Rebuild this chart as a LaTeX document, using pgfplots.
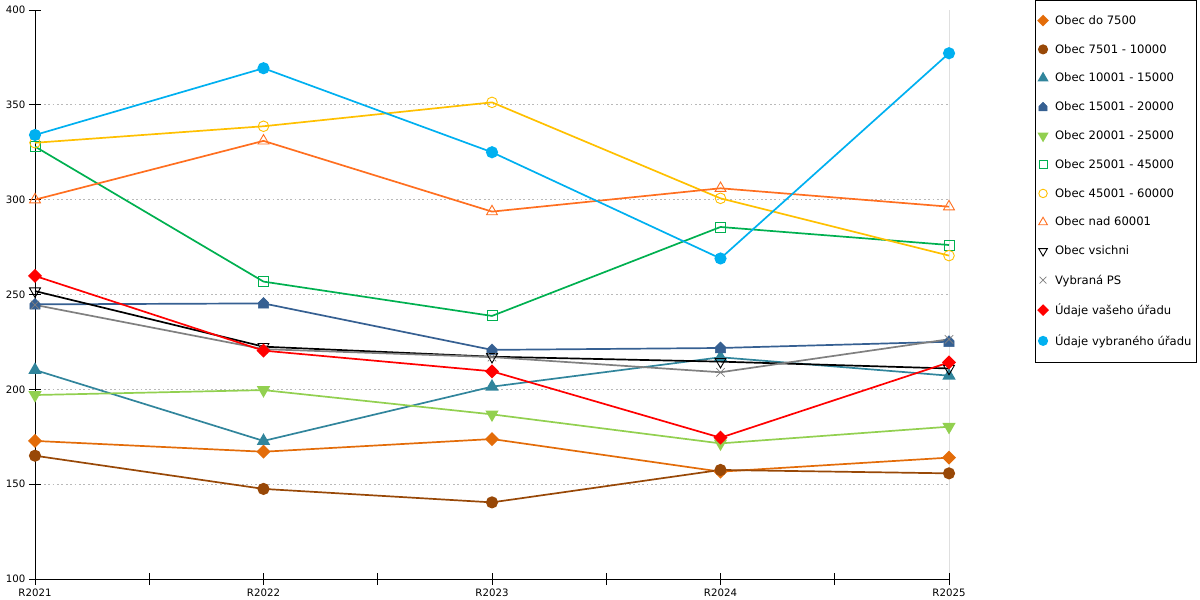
\documentclass[border=0pt]{standalone}
\usepackage{fontspec}
\setmainfont{DejaVu Sans}
\usepackage{pgfplots}
\pgfplotsset{compat=1.18}
\definecolor{cA}{HTML}{E36C09}
\definecolor{cB}{HTML}{984807}
\definecolor{cC}{HTML}{31859C}
\definecolor{cD}{HTML}{366092}
\definecolor{cE}{HTML}{92D050}
\definecolor{cF}{HTML}{00B050}
\definecolor{cG}{HTML}{FFC000}
\definecolor{cH}{HTML}{FF6F20}
\definecolor{cI}{HTML}{000000}
\definecolor{cJ}{HTML}{808080}
\definecolor{cK}{HTML}{FF0000}
\definecolor{cL}{HTML}{00B0F0}
\pgfdeclareplotmark{house}{%
  \pgfpathmoveto{\pgfqpoint{-0.85\pgfplotmarksize}{-0.8\pgfplotmarksize}}%
  \pgfpathlineto{\pgfqpoint{0.85\pgfplotmarksize}{-0.8\pgfplotmarksize}}%
  \pgfpathlineto{\pgfqpoint{0.85\pgfplotmarksize}{0.15\pgfplotmarksize}}%
  \pgfpathlineto{\pgfqpoint{0pt}{\pgfplotmarksize}}%
  \pgfpathlineto{\pgfqpoint{-0.85\pgfplotmarksize}{0.15\pgfplotmarksize}}%
  \pgfpathclose
  \pgfusepathqfillstroke}
\begin{document}
\begin{tikzpicture}
\begin{axis}[
  name=ax,
  scale only axis,
  width=914pt, height=569pt,
  xmin=0, xmax=4, ymin=100, ymax=400,
  axis x line=bottom, axis y line=left,
  axis line style={-, line width=0.8pt, black},
  xtick={0,1,2,3,4},
  xticklabels={R2021,R2022,R2023,R2024,R2025},
  minor xtick={0.5,1.5,2.5,3.5},
  ytick={150,200,250,300,350},
  extra y ticks={100,400},
  extra y tick style={grid=none},
  ymajorgrids,
  grid style={dash pattern=on 1.8pt off 2.6pt, gray!55, line width=0.7pt},
  tick align=center,
  major tick length=12pt, minor tick length=12pt,
  tick style={black, line width=0.8pt},
  ticklabel style={font=\fontsize{10.2}{12}\selectfont},
  /pgf/number format/assume math mode=true,
  every axis plot/.append style={line width=1.7pt},
  legend cell align=left,
  legend image code/.code={\draw[#1, only marks, every mark/.append style={scale=0.8}] plot coordinates {(0.1cm,0cm)};\path (0.42cm,0cm);},
  legend style={at={(rel axis cs:1.0941,1.01757)}, anchor=north west,
    draw=black, line width=0.8pt, font=\fontsize{11.6}{13}\selectfont,
    row sep=14.5pt, inner xsep=3pt, inner ysep=13pt},
]
\addplot[cA, mark=square*, mark size=4.1pt, mark options={rotate=45, solid}] coordinates {(0,172.8) (1,167.1) (2,173.8) (3,156.6) (4,164)};
\addlegendentry{Obec do 7500}
\addplot[cB, mark=*, mark size=5.2pt] coordinates {(0,165) (1,147.5) (2,140.4) (3,157.5) (4,155.7)};
\addlegendentry{Obec 7501 - 10000}
\addplot[cC, mark=triangle*, mark size=6pt] coordinates {(0,210.2) (1,172.8) (2,201.4) (3,216.9) (4,207.2)};
\addlegendentry{Obec 10001 - 15000}
\addplot[cD, mark=house, mark size=6pt, mark options={line width=0.5pt}] coordinates {(0,244.8) (1,245.3) (2,220.8) (3,221.8) (4,225.1)};
\addlegendentry{Obec 15001 - 20000}
\addplot[cE, mark=triangle*, mark size=6pt, mark options={rotate=180}] coordinates {(0,197) (1,199.6) (2,186.8) (3,171.5) (4,180.3)};
\addlegendentry{Obec 20001 - 25000}
\addplot[cF, mark=square, mark size=5pt, mark options={line width=0.9pt}] coordinates {(0,328) (1,256.8) (2,238.7) (3,285.6) (4,276.1)};
\addlegendentry{Obec 25001 - 45000}
\addplot[cG, mark=o, mark size=5.3pt, mark options={line width=0.9pt}] coordinates {(0,330) (1,338.7) (2,351.3) (3,300.7) (4,270.5)};
\addlegendentry{Obec 45001 - 60000}
\addplot[cH, mark=triangle, mark size=6.3pt, mark options={line width=0.9pt}] coordinates {(0,300) (1,331) (2,293.7) (3,306) (4,296.3)};
\addlegendentry{Obec nad 60001}
\addplot[cI, mark=triangle, mark size=6.3pt, mark options={rotate=180, line width=0.9pt}] coordinates {(0,251.8) (1,222.5) (2,217.2) (3,214.6) (4,211)};
\addlegendentry{Obec vsichni}
\addplot[cJ, mark=x, mark size=6pt, mark options={line width=0.7pt}] coordinates {(0,244.5) (1,221.2) (2,217) (3,209) (4,226.4)};
\addlegendentry{Vybraná PS}
\addplot[cK, mark=square*, mark size=4.1pt, mark options={rotate=45}] coordinates {(0,259.8) (1,220.4) (2,209.5) (3,174.5) (4,214.2)};
\addlegendentry{Údaje vašeho úřadu}
\addplot[cL, mark=*, mark size=5.2pt] coordinates {(0,334.1) (1,369.3) (2,325) (3,269) (4,377.2)};
\addlegendentry{Údaje vybraného úřadu}
\draw[black, line width=0.8pt] (axis cs:4,100) -- (axis cs:4,400);
\end{axis}
\pgfresetboundingbox
\path (ax.south west) ++(-35pt,-21pt) rectangle ++(1200pt,600pt);
\end{tikzpicture}
\end{document}
